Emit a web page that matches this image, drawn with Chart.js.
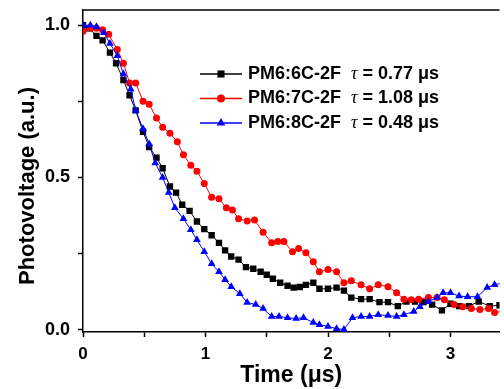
<!DOCTYPE html>
<html>
<head>
<meta charset="utf-8">
<script src="https://cdn.jsdelivr.net/npm/chart.js@4.4.1/dist/chart.umd.min.js"></script>
<style>
  body { margin: 0; background: #fff; }
  canvas { display: block; }
</style>
</head>
<body>
<canvas id="pv" width="504" height="389"></canvas>
<script>
// photovoltage decay
const t6 = [0, 0.05, 0.11, 0.16, 0.22, 0.27, 0.33, 0.38, 0.43, 0.49, 0.54, 0.6, 0.65, 0.71, 0.76, 0.81, 0.87, 0.93, 0.99, 1.05, 1.11, 1.16, 1.21, 1.27, 1.33, 1.39, 1.45, 1.5, 1.55, 1.61, 1.67, 1.72, 1.77, 1.82, 1.88, 1.93, 2.0, 2.07, 2.13, 2.19, 2.27, 2.34, 2.42, 2.49, 2.57, 2.64, 2.71, 2.78, 2.85, 2.93, 3.0, 3.07, 3.15, 3.23, 3.32, 3.4]
const pv6 = [1.0, 0.99, 0.965, 0.95, 0.91, 0.875, 0.82, 0.77, 0.72, 0.65, 0.6, 0.565, 0.53, 0.47, 0.45, 0.41, 0.39, 0.355, 0.33, 0.31, 0.285, 0.26, 0.24, 0.23, 0.205, 0.2, 0.19, 0.18, 0.167, 0.154, 0.144, 0.138, 0.14, 0.147, 0.154, 0.134, 0.134, 0.138, 0.128, 0.105, 0.1, 0.1, 0.09, 0.09, 0.077, 0.092, 0.092, 0.09, 0.082, 0.063, 0.085, 0.077, 0.077, 0.092, 0.077, 0.08]

const t7 = [0, 0.06, 0.11, 0.16, 0.21, 0.28, 0.33, 0.38, 0.43, 0.49, 0.54, 0.6, 0.65, 0.71, 0.77, 0.82, 0.88, 0.93, 0.99, 1.05, 1.11, 1.17, 1.22, 1.27, 1.34, 1.4, 1.47, 1.54, 1.59, 1.64, 1.71, 1.76, 1.82, 1.88, 1.93, 2.0, 2.07, 2.13, 2.19, 2.27, 2.34, 2.41, 2.49, 2.56, 2.62, 2.68, 2.74, 2.82, 2.89, 2.95, 3.03, 3.1, 3.17, 3.24, 3.31, 3.36, 3.43]
const pv7 = [0.98, 0.99, 0.99, 0.985, 0.97, 0.92, 0.875, 0.81, 0.81, 0.75, 0.74, 0.695, 0.665, 0.645, 0.617, 0.574, 0.54, 0.52, 0.48, 0.435, 0.43, 0.4, 0.393, 0.364, 0.357, 0.36, 0.32, 0.285, 0.289, 0.289, 0.256, 0.266, 0.252, 0.223, 0.19, 0.197, 0.19, 0.154, 0.16, 0.147, 0.134, 0.147, 0.141, 0.121, 0.1, 0.098, 0.1, 0.105, 0.105, 0.098, 0.082, 0.075, 0.069, 0.066, 0.069, 0.056, 0.06]

const t8 = [0, 0.06, 0.11, 0.17, 0.22, 0.28, 0.33, 0.39, 0.43, 0.49, 0.54, 0.59, 0.65, 0.7, 0.75, 0.82, 0.88, 0.93, 0.99, 1.05, 1.11, 1.16, 1.21, 1.28, 1.34, 1.41, 1.47, 1.54, 1.6, 1.67, 1.74, 1.8, 1.88, 1.93, 2.0, 2.07, 2.13, 2.2, 2.27, 2.34, 2.41, 2.49, 2.56, 2.62, 2.7, 2.75, 2.82, 2.89, 2.94, 3.0, 3.07, 3.14, 3.22, 3.3, 3.36, 3.43]
const pv8 = [1.0, 1.0, 0.995, 0.975, 0.94, 0.9, 0.84, 0.79, 0.72, 0.66, 0.61, 0.547, 0.5, 0.45, 0.4, 0.364, 0.328, 0.295, 0.256, 0.216, 0.19, 0.164, 0.141, 0.118, 0.089, 0.082, 0.069, 0.043, 0.043, 0.039, 0.036, 0.039, 0.023, 0.016, 0.01, 0.003, 0.0, 0.039, 0.043, 0.043, 0.049, 0.046, 0.043, 0.049, 0.059, 0.075, 0.092, 0.105, 0.121, 0.121, 0.11, 0.108, 0.108, 0.138, 0.147, 0.154]

const names = ['PM6:6C-2F', 'PM6:7C-2F', 'PM6:8C-2F']
const tau = ['0.77', '1.08', '0.48']
const xTicks = [0, 0.5, 1, 1.5, 2, 2.5, 3]
const yTicks = [0, 0.25, 0.5, 0.75, 1]
const yTitle = 'Photovoltage (a.u.)'

const FONT = '"Liberation Sans", Arial, sans-serif'

const pts = (xs, ys) => xs.map((x, i) => ({ x: x, y: ys[i] }))

const series = (label, xs, ys, color, shape, r, order) => ({
  label: label,
  data: pts(xs, ys),
  borderColor: color,
  backgroundColor: color,
  borderWidth: 1,
  pointStyle: shape,
  pointRadius: r,
  pointBorderWidth: 0,
  tension: 0,
  order: order
})

// no label overhang padding, the plot fills the box
const noOverhang = s => {
  s.paddingTop = 0
  s.paddingBottom = 0
  s.paddingLeft = 0
  s.paddingRight = 0
}

// legend sits inside the plot, with tau in italics
const legendInside = {
  id: 'legendInside',
  afterDatasetsDraw(chart) {
    const c = chart.ctx
    const area = chart.chartArea
    const x0 = area.left + 117
    const y0 = area.top + 64
    chart.data.datasets.forEach((ds, i) => {
      const y = y0 + i * 24.5
      c.save()
      c.strokeStyle = ds.borderColor
      c.lineWidth = 1.5
      c.beginPath()
      c.moveTo(x0, y)
      c.lineTo(x0 + 42, y)
      c.stroke()
      c.fillStyle = ds.backgroundColor
      Chart.helpers.drawPoint(c, { pointStyle: ds.pointStyle, radius: ds.pointRadius + 0.5, rotation: 0, borderWidth: 0 }, x0 + 21, y)
      c.fillStyle = '#000'
      c.textBaseline = 'middle'
      let tx = x0 + 48
      c.font = 'bold 18px ' + FONT
      c.fillText(names[i], tx, y)
      tx += c.measureText(names[i]).width + 10
      c.font = 'italic 18px "Liberation Serif", "Times New Roman", serif'
      c.fillText('τ', tx, y)
      tx += c.measureText('τ').width
      c.font = 'bold 18px ' + FONT
      c.fillText(' = ' + tau[i] + ' μs', tx, y)
      c.restore()
    })
  }
}

// top frame line and the y title, which sits a bit below centre
const frameAndTitle = {
  id: 'frameAndTitle',
  afterDraw(chart) {
    const c = chart.ctx
    const a = chart.chartArea
    c.save()
    c.strokeStyle = '#000'
    c.lineWidth = 1.5
    c.beginPath()
    c.moveTo(a.left, a.top)
    c.lineTo(a.right, a.top)
    c.stroke()
    c.translate(28, a.top + 176)
    c.rotate(-Math.PI / 2)
    c.fillStyle = '#000'
    c.font = 'bold 22px ' + FONT
    c.textAlign = 'center'
    c.textBaseline = 'middle'
    c.fillText(yTitle, 0, 0)
    c.restore()
  }
}

new Chart(document.getElementById('pv'), {
  type: 'line',
  data: {
    datasets: [
      series(names[0], t6, pv6, '#000000', 'rect', 4.5, 2),
      series(names[1], t7, pv7, '#ff0000', 'circle', 3.5, 1),
      series(names[2], t8, pv8, '#0000ff', 'triangle', 4.5, 0)
    ]
  },
  options: {
    responsive: false,
    animation: false,
    layout: { padding: { top: 10, right: 0, left: 0, bottom: 0 } },
    plugins: { legend: { display: false }, tooltip: { enabled: false } },
    scales: {
      x: {
        type: 'linear',
        min: 0,
        max: 3.4,
        afterBuildTicks: s => { s.ticks = xTicks.map(v => ({ value: v })) },
        afterFit: s => { s.height = 57; noOverhang(s) },
        grid: { drawOnChartArea: false, tickLength: 5, tickColor: '#000', tickWidth: 1.5 },
        border: { color: '#000', width: 1.5 },
        ticks: {
          autoSkip: false,
          maxRotation: 0,
          padding: 7,
          color: '#000',
          font: { family: FONT, size: 17, weight: 'bold' },
          callback: v => Number.isInteger(v) ? String(v) : ''
        },
        title: {
          display: true,
          text: 'Time (μs)',
          color: '#000',
          font: { family: FONT, size: 23, weight: 'bold' },
          padding: { top: 0, bottom: 0 }
        }
      },
      y: {
        min: -0.008,
        max: 1.05,
        afterBuildTicks: s => { s.ticks = yTicks.map(v => ({ value: v })) },
        afterFit: s => { s.width = 83; noOverhang(s) },
        grid: { drawOnChartArea: false, tickLength: 5, tickColor: '#000', tickWidth: 1.5 },
        border: { color: '#000', width: 1.5 },
        ticks: {
          padding: 8,
          color: '#000',
          font: { family: FONT, size: 18, weight: 'bold' },
          callback: v => (v * 2) % 1 === 0 ? v.toFixed(1) : ''
        },
        title: { display: false }
      }
    }
  },
  plugins: [legendInside, frameAndTitle]
})
</script>
</body>
</html>
